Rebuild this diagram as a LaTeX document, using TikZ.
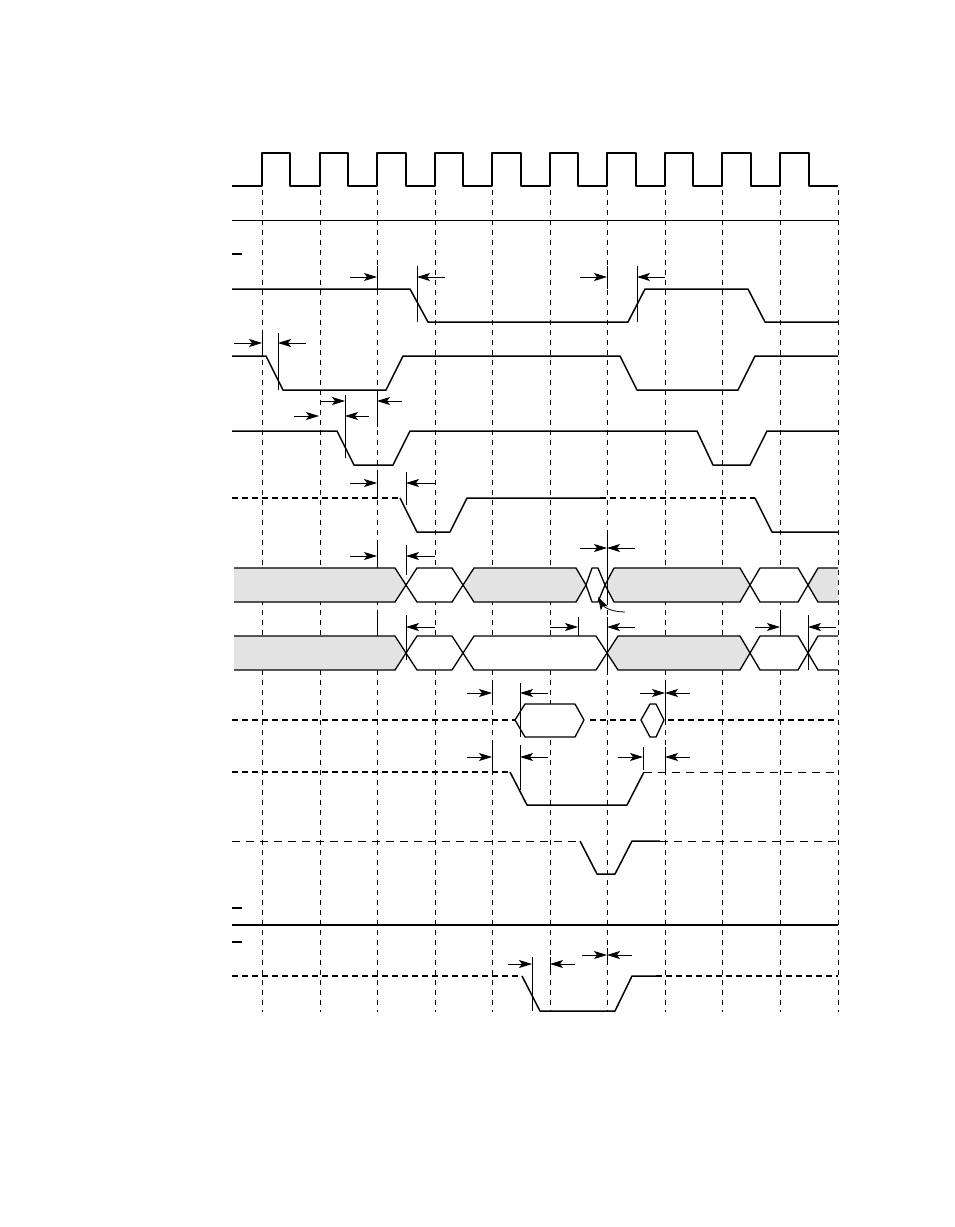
\documentclass[tikz,border=0pt]{standalone}
\usetikzlibrary{arrows.meta}
\begin{document}
\begin{tikzpicture}[x=1pt,y=-1pt,
 sig/.style={line width=1.5pt,line join=round},
 dsig/.style={line width=1.5pt,dash pattern=on 6pt off 4pt},
 tdsig/.style={line width=0.7pt,dash pattern=on 8pt off 6pt},
 grid/.style={line width=0.7pt,dash pattern=on 5pt off 5pt},
 tk/.style={line width=0.8pt},
 ar/.style={line width=0.8pt,-{Stealth[length=13pt,width=8pt,inset=3pt]}},
 gbus/.style={line width=1.3pt,fill=gray!22,line join=round},
 wbus/.style={line width=1.3pt,fill=white,line join=round}]
\useasboundingbox (0,0) rectangle (954,1227);
% grid
\foreach \x in {262,320,377,435,492,550,607,665,722,780,838}
  \draw[grid] (\x,190) -- (\x,1012);
% clock
\draw[sig] (232,186) \foreach \r/\f in {262/290,320/348,377/406,435/463,492/521,550/578,607/636,665/693,722/751,780/809}{ -- (\r,186) -- (\r,153) -- (\f,153) -- (\f,186)} -- (838,186);
\draw[line width=0.8pt] (232,220) -- (838,220);
\foreach \y in {254,908,942} \draw[line width=1.2pt] (232,\y) -- (242,\y);
% S1
\draw[sig] (232,289) -- (410,289) -- (428,322) -- (628,322) -- (645,289) -- (748,289) -- (765,322) -- (838,322);
\draw[tk] (377,266) -- (377,289); \draw[tk] (417,266) -- (417,322);
\draw[ar] (350,277) -- (377,277); \draw[ar] (445,277) -- (417,277);
\draw[tk] (607,266) -- (607,289); \draw[tk] (637,266) -- (637,322);
\draw[ar] (580,277) -- (607,277); \draw[ar] (665,277) -- (637,277);
% S2
\draw[sig] (232,356) -- (266,356) -- (283,390) -- (386,390) -- (403,356) -- (620,356) -- (637,390) -- (738,390) -- (755,356) -- (838,356);
\draw[tk] (262,333) -- (262,356); \draw[tk] (278,333) -- (278,390);
\draw[ar] (234,343) -- (262,343); \draw[ar] (306,343) -- (278,343);
% S3
\draw[sig] (232,431) -- (337,431) -- (354,465) -- (393,465) -- (410,431) -- (697,431) -- (713,465) -- (750,465) -- (767,431) -- (838,431);
\draw[tk] (345,395) -- (345,458); \draw[tk] (377,395) -- (377,427);
\draw[ar] (320,401) -- (345,401); \draw[ar] (294,416) -- (319,416);
\draw[ar] (369,416) -- (345,416); \draw[ar] (402,401) -- (377,401);
% S4
\draw[dsig] (232,498) -- (400,498);
\draw[sig] (400,498) -- (417,532) -- (450,532) -- (467,498) -- (600,498);
\draw[dsig] (600,498) -- (755,498);
\draw[sig] (755,498) -- (772,532) -- (838,532);
\draw[tk] (377,472) -- (377,498); \draw[tk] (406,472) -- (406,505);
\draw[ar] (350,483) -- (377,483); \draw[ar] (435,483) -- (406,483);
% Bus1
\draw[gbus] (234,568) -- (395,568) -- (406,585) -- (395,602) -- (234,602);
\draw[wbus] (406,585) -- (417,568) -- (452,568) -- (463,585) -- (452,602) -- (417,602) -- cycle;
\draw[gbus] (463,585) -- (474,568) -- (576,568) -- (586,585) -- (576,602) -- (474,602) -- cycle;
\draw[wbus] (586,585) -- (592,568) -- (598,568) -- (605,585) -- (598,602) -- (592,602) -- cycle;
\draw[gbus] (605,585) -- (614,568) -- (740,568) -- (750,585) -- (740,602) -- (614,602) -- cycle;
\draw[wbus] (750,585) -- (760,568) -- (798,568) -- (808,585) -- (798,602) -- (760,602) -- cycle;
\draw[gbus] (838,568) -- (818,568) -- (808,585) -- (818,602) -- (838,602);
\draw[tk] (377,545) -- (377,568); \draw[tk] (406,545) -- (406,575);
\draw[ar] (350,556) -- (377,556); \draw[ar] (435,556) -- (406,556);
\draw[tk] (607,535) -- (607,600);
\draw[ar] (580,548) -- (607,548); \draw[ar] (635,548) -- (607,548);
\draw[ar] (625,612) .. controls (610,612) and (603,606) .. (598,597);
% Bus2
\draw[gbus] (234,636) -- (395,636) -- (406,653) -- (395,670) -- (234,670);
\draw[wbus] (406,653) -- (417,636) -- (452,636) -- (463,653) -- (452,670) -- (417,670) -- cycle;
\draw[wbus] (463,653) -- (474,636) -- (596,636) -- (607,653) -- (596,670) -- (474,670) -- cycle;
\draw[gbus] (607,653) -- (618,636) -- (740,636) -- (750,653) -- (740,670) -- (618,670) -- cycle;
\draw[wbus] (750,653) -- (760,636) -- (798,636) -- (808,653) -- (798,670) -- (760,670) -- cycle;
\draw[wbus] (838,636) -- (818,636) -- (808,653) -- (818,670) -- (838,670);
\draw[tk] (377,615) -- (377,636); \draw[tk] (406,615) -- (406,660);
\draw[ar] (435,627) -- (406,627);
\draw[tk] (578,617) -- (578,636); \draw[tk] (607,617) -- (607,670);
\draw[ar] (550,627) -- (578,627); \draw[ar] (635,627) -- (607,627);
\draw[tk] (780,615) -- (780,636); \draw[tk] (808,615) -- (808,670);
\draw[ar] (755,627) -- (780,627); \draw[ar] (836,627) -- (808,627);
% Row 3
\draw[dsig] (232,720) -- (515,720);
\draw[wbus] (515,720) -- (525,704) -- (575,704) -- (584,720) -- (575,737) -- (525,737) -- cycle;
\draw[dsig] (590,720) -- (640,720);
\draw[wbus] (641,720) -- (650,704) -- (656,704) -- (664,720) -- (656,737) -- (650,737) -- cycle;
\draw[dsig] (668,720) -- (838,720);
\draw[tk] (492,683) -- (492,704); \draw[tk] (520,683) -- (520,737);
\draw[ar] (467,693) -- (492,693); \draw[ar] (548,693) -- (520,693);
\draw[tk] (665,683) -- (665,720);
\draw[ar] (640,693) -- (665,693); \draw[ar] (690,693) -- (665,693);
\draw[tk] (492,745) -- (492,770); \draw[tk] (520,745) -- (520,790);
\draw[ar] (467,757) -- (492,757); \draw[ar] (548,757) -- (520,757);
\draw[tk] (643,747) -- (643,770); \draw[tk] (665,747) -- (665,770);
\draw[ar] (618,757) -- (643,757); \draw[ar] (690,757) -- (665,757);
% Row 4
\draw[dsig] (232,772) -- (510,772);
\draw[sig] (510,772) -- (527,805) -- (627,805) -- (644,772);
\draw[tdsig] (644,772) -- (838,772);
% Row 5
\draw[tdsig] (232,841) -- (580,841);
\draw[sig] (580,841) -- (597,874) -- (615,874) -- (632,841) -- (660,841);
\draw[tdsig] (660,841) -- (838,841);
% solid
\draw[line width=1.5pt] (232,925) -- (838,925);
% Row 6
\draw[dsig] (232,976) -- (522,976);
\draw[sig] (522,976) -- (540,1011) -- (615,1011) -- (632,976) -- (656,976);
\draw[dsig] (656,976) -- (838,976);
\draw[tk] (532,957) -- (532,1011); \draw[tk] (550,957) -- (550,975);
\draw[ar] (508,964) -- (532,964); \draw[ar] (575,964) -- (550,964);
\draw[tk] (607,948) -- (607,965);
\draw[ar] (582,955) -- (607,955); \draw[ar] (632,955) -- (607,955);
\end{tikzpicture}
\end{document}
